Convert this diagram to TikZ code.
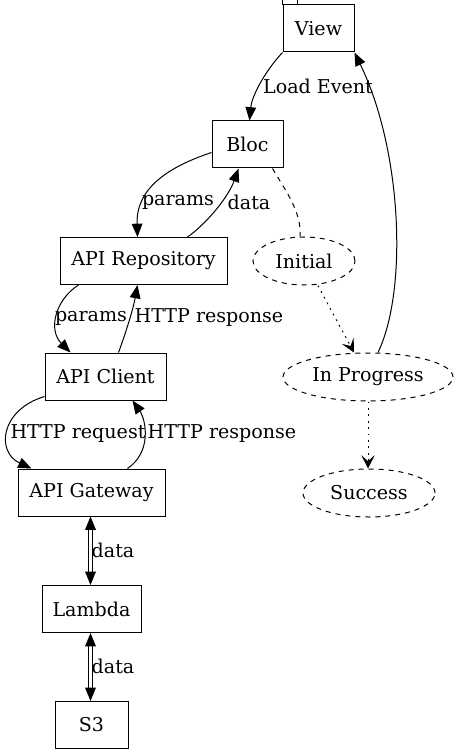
\documentclass[tikz,border=0pt]{standalone}
\usepackage{fontspec}
\setmainfont{DejaVu Serif}
\usetikzlibrary{arrows.meta,shapes.geometric,calc}
\begin{document}
\begin{tikzpicture}[x=0.75pt,y=-0.75pt,
  every node/.style={font=\fontsize{14.3}{16}\selectfont},
  box/.style={draw,line width=0.75pt,rectangle,inner sep=0pt,minimum height=35.25pt},
  state/.style={draw,line width=0.75pt,dash pattern=on 3.75pt off 3.75pt,ellipse,inner sep=0pt,minimum height=36pt},
  lbl/.style={inner sep=0pt},
  edge/.style={line width=0.75pt,-{Triangle[length=10pt,width=8pt]}},
  dotedge/.style={line width=0.75pt,dash pattern=on 1.4pt off 3.4pt,-{Stealth[length=10pt,width=10pt,inset=4.5pt]}},
  dbl/.style={line width=0.75pt,double,double distance=1.6pt,{Triangle[length=10pt,width=8pt]}-{Triangle[length=10pt,width=8pt]}}]
\useasboundingbox (0,0) rectangle (461,755);
% nodes
\node[box,minimum width=53.25pt] (view) at (318.5,28.5) {View};
\node[box,minimum width=53.25pt] (bloc) at (247.5,144.5) {Bloc};
\node[box,minimum width=125.25pt] (repo) at (143.5,261) {API Repository};
\node[box,minimum width=90.75pt] (client) at (105.5,376.5) {API Client};
\node[box,minimum width=110.25pt] (gw) at (91.5,492.5) {API Gateway};
\node[box,minimum width=74.25pt] (lam) at (91.5,609) {Lambda};
\node[box,minimum width=54.75pt] (s3) at (91.5,725) {S3};
\node[state,minimum width=76.5pt] (init) at (304,261) {Initial};
\node[state,minimum width=127.5pt] (ip) at (368,377) {In Progress};
\node[state,minimum width=99pt] (succ) at (369,493) {Success};
% tab of view
\draw[line width=0.75pt] (view.north west) rectangle ++(15,-5);
% edges
\draw[edge] (view.south west) .. controls (266,70) and (252,95) .. ($(bloc.north)+(2,0)$);
\draw[edge] ($(ip.north)+(10,0)$) .. controls (408,290) and (402,150) .. (view.south east);
\draw[edge] ($(bloc.west)+(0,8)$) .. controls (165,168) and (136,190) .. ($(repo.north)+(-6,0)$);
\draw[edge] ($(repo.north)+(44,0)$) .. controls (205,225) and (228,198) .. ($(bloc.south)+(-9,0)$);
\draw[line width=0.75pt,dash pattern=on 3.75pt off 3.75pt] ($(bloc.south east)+(-11,0)$) .. controls (285,190) and (302,212) .. ($(init.north)+(-4,0)$);
\draw[dotedge] ($(init.south)+(14,0)$) .. controls (328,305) and (342,330) .. ($(ip.north)+(-14,0)$);
\draw[dotedge] (ip.south) -- (ip.south |- succ.north);
\draw[edge] ($(repo.south west)+(19,0)$) .. controls (55,300) and (48,330) .. ($(client.north)+(-35,0)$);
\draw[edge] ($(client.north)+(13,0)$) .. controls (125,335) and (133,310) .. ($(repo.south)+(-6,0)$);
\draw[edge] ($(client.south west)+(0,-4)$) .. controls (0,410) and (-4,452) .. ($(gw.north)+(-60,0)$);
\draw[edge] ($(gw.north)+(36,0)$) .. controls (152,452) and (146,420) .. ($(client.south)+(27,0)$);
\draw[dbl] ($(gw.south)+(-1,0)$) -- ($(lam.north)+(-1,0)$);
\draw[dbl] ($(lam.south)+(-1,0)$) -- ($(s3.north)+(-1,0)$);
% labels
\node[lbl] (l1) at (318,86) {Load Event};
\node[lbl] (l2) at (178,202) {params};
\node[lbl] (l3) at (249,202) {data};
\node[lbl] (l4) at (91,318) {params};
\node[lbl] (l5) at (209,318) {HTTP response};
\node[lbl] (l6) at (78,434) {HTTP request};
\node[lbl] (l7) at (222,434) {HTTP response};
\node[lbl] (l8) at (113,550) {data};
\node[lbl] (l9) at (113,666) {data};
\end{tikzpicture}
\end{document}
